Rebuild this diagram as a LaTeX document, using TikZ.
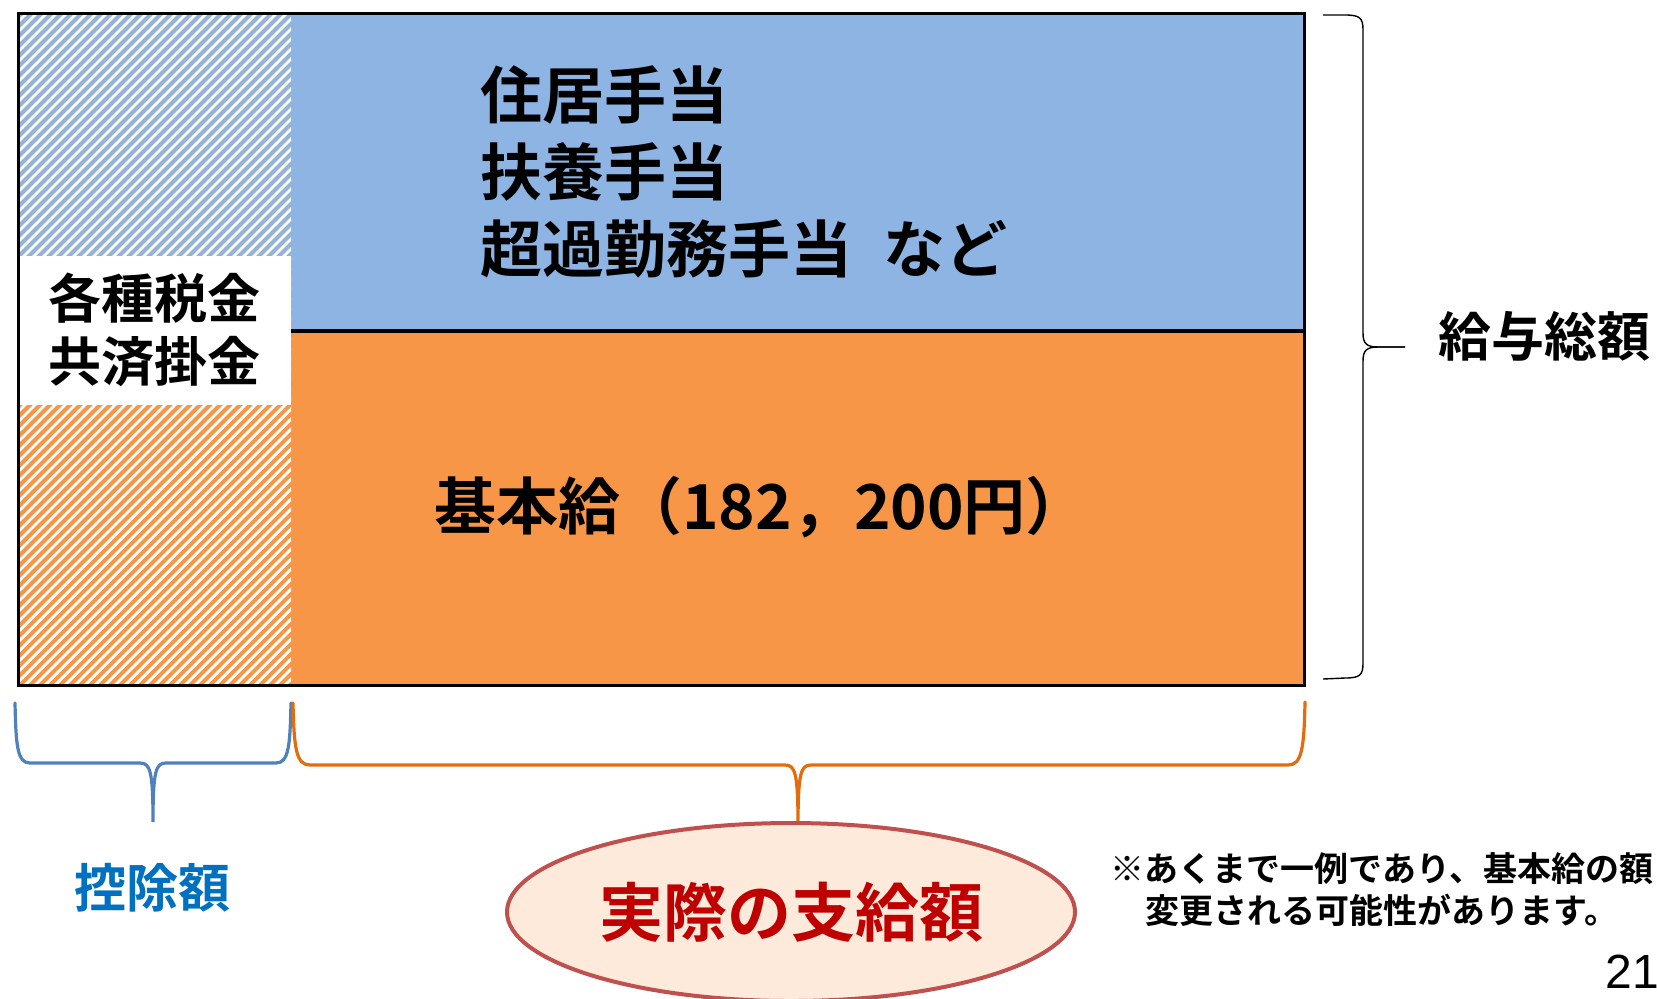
\documentclass[tikz,border=0pt]{standalone}
\usepackage{amsmath}
\usepackage{fontspec}
\usepackage{tikz}
\usetikzlibrary{shapes.geometric}

\newfontfamily\jp{Noto Sans CJK JP Bold}
\newfontfamily\pagefont{Liberation Sans}

\definecolor{allowblue}{RGB}{142,180,227}
\definecolor{baseorange}{RGB}{247,150,70}
\definecolor{hatchblue}{RGB}{149,179,215}
\definecolor{braceblue}{RGB}{79,129,189}
\definecolor{braceorange}{RGB}{228,108,10}
\definecolor{ovalline}{RGB}{192,80,77}
\definecolor{ovalfill}{RGB}{253,234,218}
\definecolor{payred}{RGB}{192,0,0}
\definecolor{deductblue}{RGB}{0,112,192}

\tikzset{
  jptext/.style={inner sep=0.75pt, font=\jp},
  hatchline/.style={white, line width=1.4pt},
}

\begin{document}
\begin{tikzpicture}[x=0.5pt,y=0.5pt,yscale=-1,xscale=1]
        \useasboundingbox (0,0) rectangle (1657,998);

        %Shape: Rectangle (allowances)
        \fill [allowblue] (291,13) rectangle (1304,331) ;
        %Shape: Rectangle (base pay)
        \fill [baseorange] (291,331) rectangle (1304,685) ;

        %Shape: Hatched column, upper part
        \begin{scope}
          \clip (20,13) rectangle (291,331) ;
          \fill [hatchblue] (20,13) rectangle (291,331) ;
          \foreach \c in {20,30,...,640}
            \draw [hatchline] (\c-340,340) -- (\c,0) ;
        \end{scope}
        %Shape: Hatched column, lower part
        \begin{scope}
          \clip (20,331) rectangle (291,685) ;
          \fill [baseorange] (20,331) rectangle (291,685) ;
          \foreach \c in {340,350,...,1000}
            \draw [hatchline] (\c-700,700) -- (\c,0) ;
        \end{scope}
        %Shape: White label box
        \fill [white] (20,256) rectangle (291,405) ;

        %Straight Lines (divider)
        \draw [line width=2pt] (291,331) -- (1304,331) ;
        %Shape: Rectangle (outline)
        \draw [line width=1.5pt] (18,13) rectangle (1304,685) ;

        %Shape: Brace (total)
        \draw [line width=0.7pt] (1323,15) -- (1345,15) .. controls (1360,15) and (1363,18) .. (1363,30) -- (1363,333) .. controls (1363,343) and (1366,347) .. (1378,347) -- (1405,347) ;
        \draw [line width=0.7pt] (1405,347) -- (1378,347) .. controls (1366,347) and (1363,351) .. (1363,361) -- (1363,663) .. controls (1363,675) and (1360,678) .. (1345,678) -- (1323,679) ;

        %Shape: Brace (deductions)
        \draw [braceblue, line width=1.6pt, line cap=round] (15,703) .. controls (16,745) and (17,763) .. (30,763) -- (140,763) .. controls (150,763) and (153,770) .. (153,822) .. controls (153,770) and (156,763) .. (166,763) -- (276,763) .. controls (289,763) and (290,745) .. (291,703) ;
        %Shape: Brace (take-home)
        \draw [braceorange, line width=1.6pt, line cap=round] (293,703) .. controls (294,748) and (296,765) .. (310,765) -- (785,765) .. controls (795,765) and (798,772) .. (798,826) .. controls (798,772) and (801,765) .. (811,765) -- (1288,765) .. controls (1302,765) and (1304,748) .. (1305,702) ;

        %Shape: Ellipse
        \node (pay) [ellipse, draw=ovalline, fill=ovalfill, line width=2pt, minimum width=284pt, minimum height=89pt, inner sep=0pt, font=\jp\fontsize{32}{38}\selectfont, text=payred] at (791,912) {実際の支給額};

        % Text Node
        \node (allow) [jptext, anchor=west, align=left, font=\jp\fontsize{31}{38.5}\selectfont] at (479,172) {住居手当\\扶養手当\\超過勤務手当\hspace{0.5em}など};
        % Text Node
        \node (base) [jptext, font=\jp\fontsize{31}{38}\selectfont] at (761,507) {基本給（182，200円）};
        % Text Node
        \node (tax) [jptext, align=center, font=\jp\fontsize{26.5}{31.5}\selectfont] at (154,330) {各種税金\\共済掛金};
        % Text Node
        \node (total) [jptext, anchor=west, font=\jp\fontsize{26.5}{32}\selectfont] at (1437,336) {給与総額};
        % Text Node
        \node (deduct) [jptext, text=deductblue, font=\jp\fontsize{26}{32}\selectfont] at (152,888) {控除額};
        % Text Node
        \node (note) [jptext, align=center, font=\jp\fontsize{17}{21}\selectfont] at (1382,890) {※あくまで一例であり、基本給の額\\変更される可能性があります。};
        % Text Node
        \node (page) [inner sep=0.75pt, anchor=west, font=\pagefont\fontsize{24}{28}\selectfont] at (1604,972) {21};

\end{tikzpicture}
\end{document}
